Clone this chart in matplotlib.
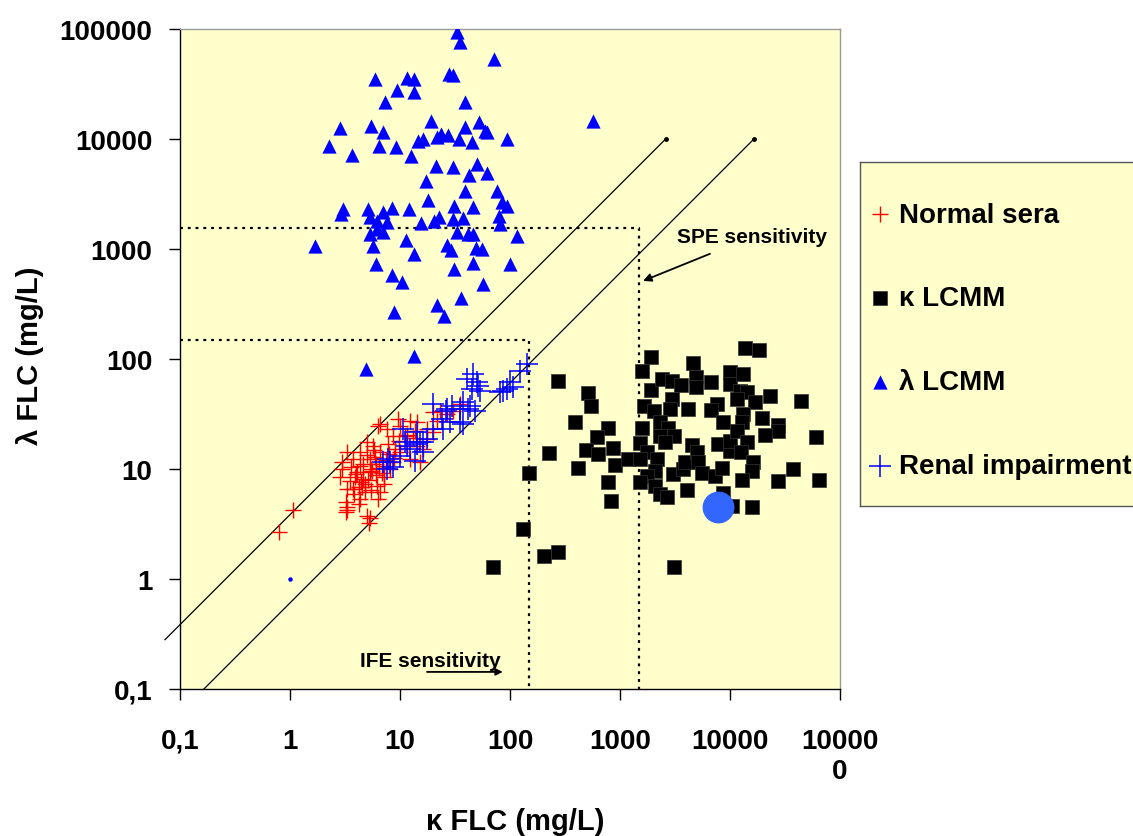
import matplotlib
matplotlib.use("Agg")
import matplotlib.pyplot as plt
import numpy as np

plt.rcParams.update({
    "font.family": "Liberation Sans",
    "font.weight": "bold",
})

BG = "#FFFFCC"

# ── data (mg/L) ─────────────────────────────────────────────────────────────
normal_kappa = [0.8, 1.06, 5.2, 5.3, 3.2, 3.3, 4.3, 3.3, 3.0, 3.7, 4.3, 5.0, 6.3, 7.6,
                8.6, 10, 12.3, 14.3, 17.6, 20, 23.1, 30.3, 35, 5.3, 6.2, 6.6, 4.6, 4.1,
                5.3, 6.6, 7.0, 8.6, 10, 11.6, 12.3, 15.2, 14.3, 17.6, 20, 5.0, 3.5, 3.7,
                4.3, 3.0, 5.7, 3.3, 6.6, 3.2, 3.3, 3.9, 4.8, 5.5, 7.1, 8.1, 5.9, 9.0,
                4.8, 4.2, 2.85, 7.8, 11.1, 13.7, 9.6, 16.2, 21.7, 26.7, 4.5, 3.6, 7.1, 6.3,
                4.0, 4.6, 5.1, 5.6, 6.0, 6.8, 7.4, 4.4, 5.0, 5.8, 6.5, 3.8, 4.2, 5.4,
                6.1, 7.9, 8.9, 9.8, 11.5, 13.0]
normal_lambda = [2.7, 4.2, 3.2, 3.6, 4.1, 4.5, 5.3, 6.6, 10, 12.3, 14.3, 17.6, 24.6, 23.1,
                 20, 24.6, 27.3, 26.7, 23.1, 33, 33.7, 33.7, 39, 9.4, 7.0, 6.2, 8.1, 9.4,
                 12.3, 14.3, 10.6, 11.6, 14.3, 16.2, 12.3, 11.6, 16.2, 18.7, 21.7, 3.7, 7.8,
                 6.6, 10.6, 11.6, 16.2, 14.3, 25.6, 5.0, 4.2, 8.5, 7.3, 10, 8.5, 10, 12.9,
                 15.2, 6.2, 4.8, 8.5, 16.9, 20, 22, 28.5, 15.2, 27.3, 31.6, 6.9, 10.4, 7.3, 5.3,
                 9.0, 11.0, 8.0, 9.6, 11.2, 9.2, 12.0, 7.6, 13.5, 14.8, 10.2, 5.9, 6.8, 6.5,
                 8.8, 13.8, 12.6, 18.0, 20.5, 19.0]

renal_kappa = [46, 50, 45, 53, 41, 123, 143, 100, 86, 107, 20, 26, 30, 35, 41.5, 37, 48,
               28.5, 24, 24.6, 20, 16.2, 14.3, 10.6, 11.1, 10, 8.1, 7.6, 12.3, 16.2, 17.6,
               7.8, 8.6, 13.7, 26.7, 37, 43, 51, 81, 94, 35, 14.3, 11.6, 7.0, 15.2]
renal_lambda = [73, 62, 53, 51, 66, 78, 90, 62, 51, 56, 39, 34, 37, 35, 35, 25.6, 34,
                26.7, 28.5, 23.1, 23.1, 17.6, 16.9, 23.1, 17.6, 13.1, 11.6, 10, 15.2, 14.3,
                18.7, 12.3, 10.4, 11.8, 35, 40.6, 37, 57, 50, 53, 26.7, 21.7, 16.2, 11.6, 17.6]

kappa_lcmm_kappa = [273, 512, 545, 390, 226, 149, 131, 204, 273, 415, 778, 828, 778, 618,
                    491, 630, 863, 900, 1180, 1910, 1580, 1910, 2410, 2970, 3580, 2970, 1650,
                    2040, 2850, 1580, 2310, 2730, 3100, 2310, 2560, 1520, 1760, 1520, 2170,
                    2080, 1760, 1520, 2080, 2310, 2680, 3040, 3740, 3900, 4060, 4150, 4610,
                    4910, 4910, 6720, 7620, 6720, 8630, 4510, 5010, 5120, 5560, 7300, 8450,
                    7780, 10000, 10000, 10000, 10000, 13100, 12300, 14300, 11600, 16900,
                    13100, 12900, 11600, 14300, 12600, 16200, 16000, 12900, 13700, 18400,
                    23100, 19500, 27300, 27300, 20800, 37400, 27300, 44200, 60500, 64500,
                    16000, 10400, 8630, 3100, 70]
kappa_lcmm_lambda = [63, 49, 37, 27, 14, 9.2, 2.85, 1.62, 1.76, 10.2, 7.6, 5.1, 23.6, 19.5,
                     14.9, 13.7, 15.5, 10.9, 12.3, 104, 78, 52, 66, 63, 58, 43, 37, 33.7,
                     35, 23.6, 26.7, 23.6, 20, 20, 17.6, 17.2, 14.3, 12.3, 12.3, 9.6, 8.6,
                     7.6, 7.0, 5.9, 5.6, 9.0, 10, 11.6, 6.45, 35, 92, 69, 56, 62, 39, 34.4,
                     26.7, 16.5, 14.3, 11.6, 9.2, 8.6, 10.2, 16.9, 14.6, 18, 76, 59, 73, 51,
                     50, 43, 40.6, 31.6, 26.7, 22.1, 17.6, 14.3, 11.6, 9.6, 7.9, 126, 121,
                     46, 29, 25, 22.1, 20.4, 10, 7.8, 41.5, 19.5, 7.9, 4.5, 4.6, 6.05, 1.29, 1.29]

lambda_lcmm_kappa = [33, 35.1, 71.5, 5.9, 11.6, 13.4, 27.9, 30.3, 9.4, 13.4, 7.3, 39, 2.85,
                     5.4, 7.0, 19.1, 23.6, 27.3, 21.7, 39, 52, 59, 62, 2.26, 3.66, 6.45, 9.2,
                     14.6, 16.2, 34.4, 45, 94, 12.6, 21.2, 30.3, 50, 42.4, 62, 17.2, 39, 76,
                     18, 3.03, 2.9, 5.1, 5.3, 7.0, 8.4, 12.1, 31, 46, 84, 94, 80, 80.5, 15.5,
                     20.4, 22.6, 30.3, 37, 6.2, 7.6, 5.3, 7.0, 6.2, 33, 41.5, 46, 116, 1.69,
                     5.7, 11.3, 26.7, 29, 49, 56, 13.4, 6.0, 31, 46, 100, 8.4, 10.4, 57, 36,
                     8.8, 21.7, 25, 13.4, 570, 4.9]
lambda_lcmm_lambda = [94000, 76000, 53000, 35000, 35800, 35000, 39000, 38000, 27900, 26800,
                      21500, 21500, 12600, 13100, 11600, 14600, 11100, 10900, 10400, 12850,
                      14300, 11800, 11600, 8630, 7150, 8630, 8460, 9600, 10000, 10000, 9400,
                      10000, 7000, 5680, 5560, 5930, 4700, 4910, 4150, 3370, 3370, 2790, 2310,
                      2080, 2310, 1950, 2170, 2360, 2310, 2460, 2400, 2680, 2460, 2000, 1690,
                      1720, 1800, 1950, 1870, 1900, 1800, 1760, 1370, 1430, 1520, 1430, 1370,
                      1370, 1310, 1060, 1060, 1210, 1080, 980, 1020, 1000, 900, 730, 660, 750,
                      730, 580, 500, 480, 360, 270, 310, 245, 106, 14500, 81]

small_dot = (1.0, 1.0)
big_dot = (7770, 4.5)

ratio_upper = 1 / 0.26   # kappa/lambda ratio 0.26
ratio_lower = 1 / 1.65   # kappa/lambda ratio 1.65
upper_kappa = [0.073, 2600]
lower_kappa = [0.165, 16500]

ife_limit = 150
spe_kappa, spe_lambda = 1500, 1550

ticks = [0.1, 1, 10, 100, 1000, 10000, 100000]
xtick_labels = ["0,1", "1", "10", "100", "1000", "10000", "10000\n0"]
ytick_labels = ["0,1", "1", "10", "100", "1000", "10000", "100000"]

# ── figure ──────────────────────────────────────────────────────────────────
fig = plt.figure(figsize=(11.33, 8.37), dpi=100)
ax = fig.add_axes([180 / 1133, 147 / 837, 660 / 1133, 660 / 837])
ax.set_facecolor(BG)
ax.set_xscale("log")
ax.set_yscale("log")
ax.set_xlim(0.1, 100000)
ax.set_ylim(0.1, 100000)

# ratio range lines
uk = np.array(upper_kappa)
lk = np.array(lower_kappa)
ax.plot(uk, uk * ratio_upper, color="black", lw=0.9, clip_on=False, zorder=2,
        marker="o", markersize=2.5, markevery=[1])
ax.plot(lk, lk * ratio_lower, color="black", lw=0.9, zorder=2,
        marker="o", markersize=2.5, markevery=[1])

# sensitivity boxes
dots = (0, (1.3, 2.2))
ax.plot([0.1, ife_limit, ife_limit], [ife_limit, ife_limit, 0.1],
        color="black", lw=1.6, ls=dots, zorder=2)
ax.plot([0.1, spe_kappa, spe_kappa], [spe_lambda, spe_lambda, 0.1],
        color="black", lw=1.6, ls=dots, zorder=2)

sc_normal = ax.scatter(normal_kappa, normal_lambda, marker="+", s=120, color="#FF0000",
                       linewidths=1.0, zorder=3, label="Normal sera")
sc_renal = ax.scatter(renal_kappa, renal_lambda, marker="+", s=230, color="#0000FF",
                      linewidths=1.1, zorder=4, label="Renal impairment")
sc_kappa = ax.scatter(kappa_lcmm_kappa, kappa_lcmm_lambda, marker="s", s=88, color="black",
                      edgecolors="#333333", linewidths=0.5, zorder=5, label="κ LCMM")
sc_lambda = ax.scatter(lambda_lcmm_kappa, lambda_lcmm_lambda, marker="^", s=105,
                       color="#0000FF", linewidths=0, zorder=5, label="λ LCMM")
ax.scatter([small_dot[0]], [small_dot[1]], marker="o", s=5, color="#0000FF", zorder=5)
ax.scatter([big_dot[0]], [big_dot[1]], marker="o", s=480, color="#3366FF", zorder=6)

# annotations
ax.annotate("SPE sensitivity", xy=(1620, 513), xytext=(15800, 1290),
            ha="center", va="center", fontsize=15, fontweight="bold",
            arrowprops=dict(arrowstyle="-|>", color="black", lw=1.3,
                            mutation_scale=12, shrinkA=9, shrinkB=0))
ax.text(19, 0.18, "IFE sensitivity", ha="center", va="center", fontsize=15,
        fontweight="bold")
ax.annotate("", xy=(86, 0.143), xytext=(17.6, 0.143),
            arrowprops=dict(arrowstyle="-|>", color="black", lw=1.3,
                            mutation_scale=10, shrinkA=0, shrinkB=0))

# axes styling
ax.minorticks_off()
ax.set_xticks(ticks)
ax.set_xticklabels(xtick_labels, fontsize=20, fontweight="bold")
ax.set_yticks(ticks)
ax.set_yticklabels(ytick_labels, fontsize=20, fontweight="bold")
ax.tick_params(axis="x", direction="out", length=8, width=1, pad=20)
ax.tick_params(axis="y", direction="out", length=8, width=1, pad=12)
for side in ("left", "bottom"):
    ax.spines[side].set_color("black")
    ax.spines[side].set_linewidth(1.0)
for side in ("top", "right"):
    ax.spines[side].set_color("#999999")
    ax.spines[side].set_linewidth(1.0)

fig.text(515 / 1133, 1 - 822 / 837, "κ FLC (mg/L)", ha="center", va="center",
         fontsize=21, fontweight="bold")
fig.text(30 / 1133, 1 - 356 / 837, "λ FLC (mg/L)", ha="center", va="center",
         rotation=90, fontsize=21, fontweight="bold")

# legend panel
lax = fig.add_axes([860 / 1133, 1 - 507 / 837, 300 / 1133, 344 / 837])
lax.set_facecolor(BG)
lax.set_xticks([])
lax.set_yticks([])
for side in lax.spines.values():
    side.set_color("#555555")
    side.set_linewidth(1.0)
lax.legend([sc_normal, sc_kappa, sc_lambda, sc_renal],
           ["Normal sera", "κ LCMM", "λ LCMM", "Renal impairment"],
           loc="center left", bbox_to_anchor=(0, 0.482), frameon=False,
           labelspacing=2.08, handlelength=0.75, handletextpad=0.3,
           borderaxespad=0.0, borderpad=0.35,
           prop={"weight": "bold", "size": 20}, scatterpoints=1)

fig.savefig("out.png", dpi=100, facecolor="white")
